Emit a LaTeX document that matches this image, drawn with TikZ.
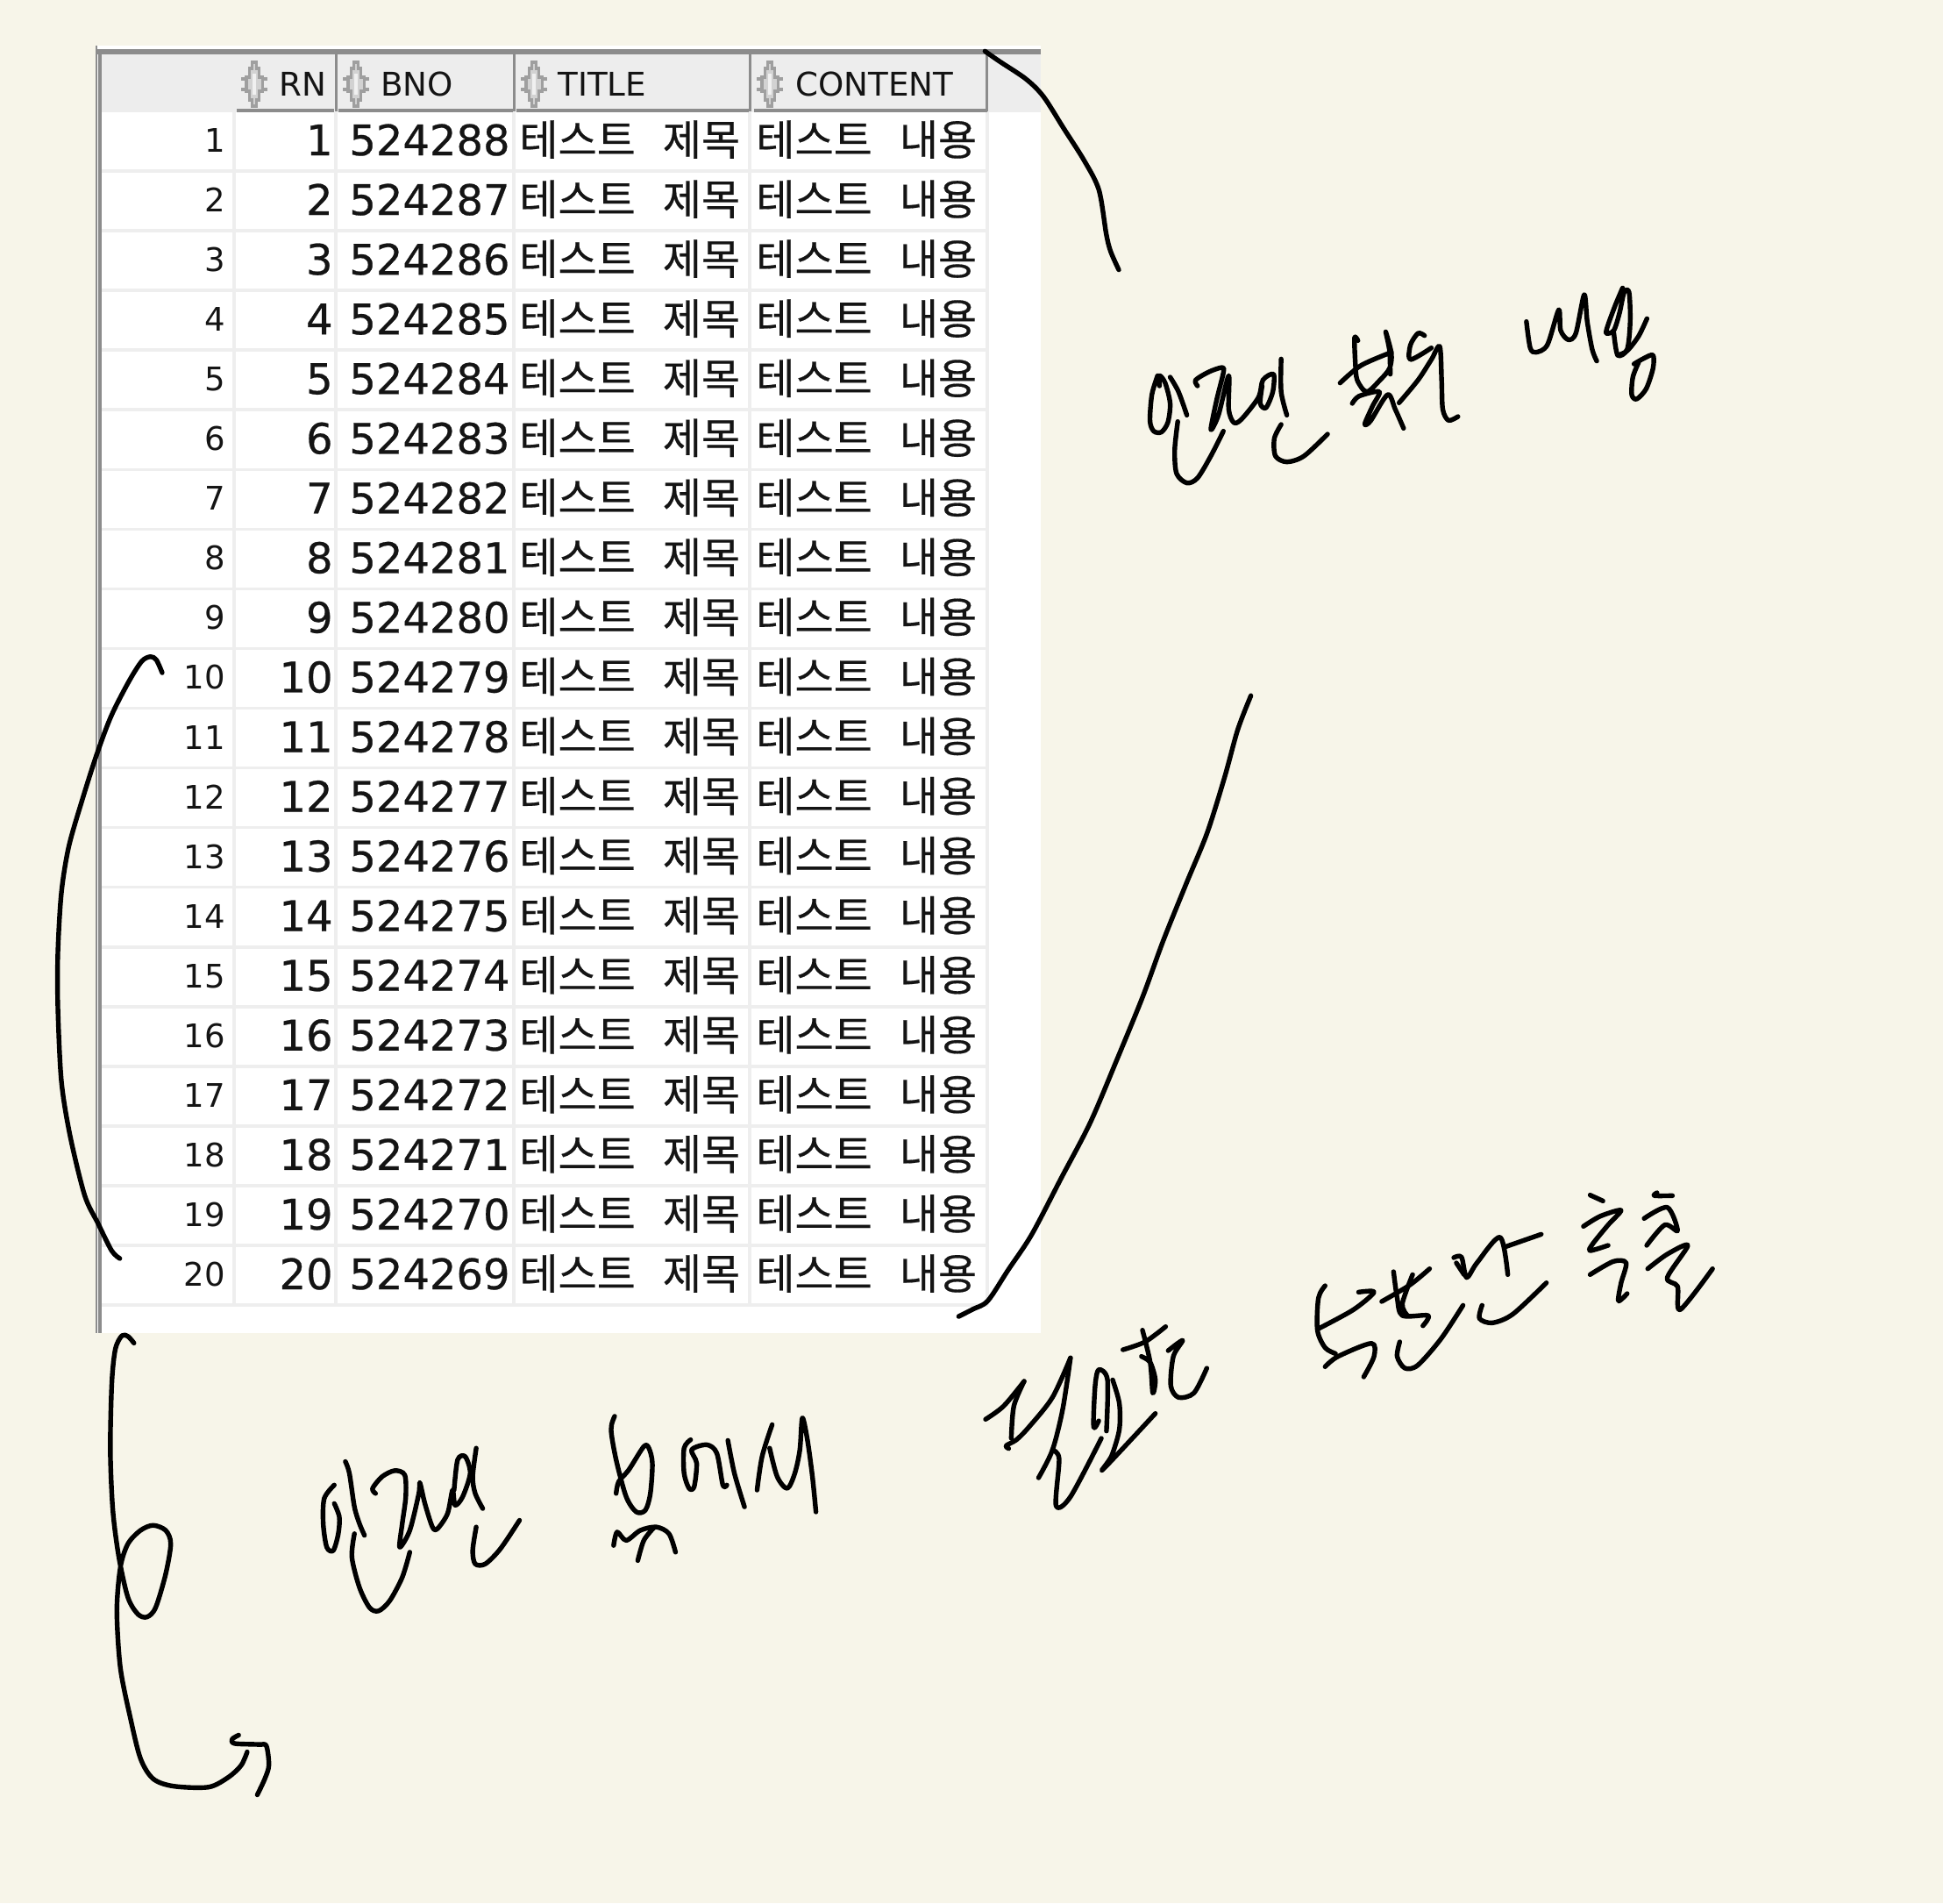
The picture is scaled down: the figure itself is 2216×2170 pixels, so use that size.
\documentclass[tikz,border=0pt]{standalone}
\usepackage{fontspec}
\setmainfont{DejaVu Sans}
\newfontfamily\numfont[FakeBold=0.5]{DejaVu Sans}
\newfontfamily\krfont[FakeBold=0.4]{Noto Sans CJK KR}
\definecolor{paper}{HTML}{F7F5E9}
\definecolor{sepc}{HTML}{EEEEEE}
\definecolor{headbg}{HTML}{EDEDED}
\definecolor{headline}{HTML}{8C8C8C}
\definecolor{inkc}{HTML}{141414}
\tikzset{
  hand/.style={line width=2.7pt,line cap=round,line join=round,black},
  hdrtxt/.style={inner sep=0pt,anchor=base west,text=inkc,font=\fontsize{18.6}{22}\selectfont},
  rowtxt/.style={inner sep=0pt,anchor=base east,text=inkc,font=\fontsize{18.5}{22}\selectfont},
  numtxt/.style={inner sep=0pt,anchor=base east,text=inkc,font=\numfont\fontsize{24}{30}\selectfont},
  kortxt/.style={inner sep=0pt,anchor=base west,text=inkc,font=\krfont\fontsize{24}{30}\selectfont},
}
\newcommand\sorticon[1]{%
  \begin{scope}[shift={(#1,96)},xscale=1.15]
    \fill[gray!35,draw=gray!75,line width=1.7pt]
      (-2,-25)--(2,-25)--(2,-18)--(5,-18)--(5,-8)--(8,-8)--(8,8)--(5,8)--(5,18)--(2,18)--(2,25)--(-2,25)--(-2,18)--(-5,18)--(-5,8)--(-8,8)--(-8,-8)--(-5,-8)--(-5,-18)--(-2,-18)--cycle;
    \draw[gray!75,line width=1.7pt] (-13,-6)--(-8,-6) (-13,6)--(-8,6) (8,-6)--(13,-6) (8,6)--(13,6);
    \fill[gray!12] (-2,-12) rectangle (2,12);
  \end{scope}}
\newcommand\hw[1]{\draw[hand] plot[smooth,tension=0.5] coordinates {#1};}
\begin{document}
\begin{tikzpicture}[x=0.5pt,y=-0.5pt]
\useasboundingbox (0,0) rectangle (2216,2170);
\fill[paper] (0,0) rectangle (2216,2170);
% table sheet
\fill[white] (110,52) rectangle (1187,1520);
\fill[headbg] (116,62) rectangle (1187,128);
\draw[headline,line width=2.6pt] (110,59)--(1187,59);
\draw[headline,line width=1pt] (110,52)--(110,1520);
\draw[headline,line width=2pt] (114,59)--(114,1520);
% header cell rules
\foreach \a/\b in {270/381,386/585,589/854,860/1126} {\draw[headline,line width=2pt] (\a,126)--(\b,126);}
\foreach \x in {383,586,855,1125} {\draw[headline,line width=1.5pt] (\x,62)--(\x,127);}
% grid
\foreach \i in {1,...,20} {\draw[sepc,line width=1.8pt] (116,127+68.05*\i)--(1127,127+68.05*\i);}
\foreach \x in {267,383,586,855,1126} {\draw[sepc,line width=1.8pt] (\x,128)--(\x,1488);}
% header
\sorticon{290}\sorticon{406}\sorticon{609}\sorticon{878}
\node[hdrtxt] (hRN) at (318,109) {RN};
\node[hdrtxt] (hBNO) at (434,109) {BNO};
\node[hdrtxt] (hTITLE) at (636,109) {TITLE};
\node[hdrtxt] (hCONTENT) at (907,109) {CONTENT};
% rows
\foreach \i in {1,...,20} {
  \pgfmathsetmacro{\yb}{127+68.05*(\i-0.5)+16}
  \edef\bno{\the\numexpr 524289-\i\relax}
  \node[rowtxt] (row\i) at (257,\yb-3.5) {\i};
  \node[numtxt] (rn\i) at (380,\yb) {\i};
  \node[numtxt] (bno\i) at (582,\yb) {\bno};
  \node[kortxt] (title\i) at (592,\yb) {테스트\hspace{15.5pt}제목};
  \node[kortxt] (content\i) at (862,\yb) {테스트\hspace{15.5pt}내용};
}
% top-right stroke
\begin{scope}[shift={(820,40)},scale=1/3]
\hw{(910,55)(960,90)(1050,150)(1110,210)(1180,320)(1250,430)(1300,530)(1325,680)(1340,740)(1368,803)}
\end{scope}
% left bracket
\begin{scope}[shift={(40,720)},xscale=1/3,yscale=1/1.912]
\hw{(435,90)(415,62)(395,55)(365,65)(320,110)(260,185)(210,270)(160,370)(115,470)(90,570)(78,700)(78,820)(90,980)(120,1100)(170,1230)(215,1290)(262,1350)(290,1367)}
\end{scope}
% long right stroke
\begin{scope}[shift={(1060,780)},xscale=1/3,yscale=1/2.119]
\hw{(1100,28)(1055,110)(1010,225)(950,360)(880,480)(800,620)(730,755)(640,910)(550,1060)(450,1195)(350,1330)(270,1415)(200,1490)(150,1510)(100,1528)}
\end{scope}
% first note
\begin{scope}[shift={(1240,300)},xscale=1/2.306,yscale=1/3]
\hw{(185,385)(170,450)(165,540)(175,575)(195,578)(212,545)(218,480)(205,410)(190,385)(190,420)}
\hw{(218,390)(240,440)(262,520)}
\hw{(238,542)(230,640)(235,720)(262,752)(290,735)(325,660)(358,575)}
\hw{(290,420)(285,400)(320,372)(355,357)(358,375)(340,470)(325,570)(345,520)(372,385)(372,500)(385,545)(405,535)(450,460)(462,400)(490,380)(488,440)(470,495)(455,480)(460,420)}
\hw{(510,328)(510,440)(525,520)}
\hw{(510,552)(492,600)(495,660)(525,680)(570,660)(632,585)}
\hw{(712,265)(703,255)(705,340)(710,400)(735,440)(770,400)(795,360)(800,310)(785,235)(795,300)(797,380)}
\hw{(665,410)(720,350)(800,305)}
\hw{(697,480)(715,455)(768,440)(750,490)(730,550)(745,540)(790,450)(810,500)(832,565)}
\hw{(887,248)(870,240)(850,280)(850,330)(905,290)}
\hw{(820,478)(870,400)(905,330)(927,285)(932,400)(935,500)(950,538)(975,525)}
\hw{(1155,200)(1165,290)(1180,305)(1210,280)(1240,160)(1245,230)(1265,262)(1285,240)(1307,108)(1315,200)(1328,295)(1340,335)}
\hw{(1408,85)(1390,140)(1370,210)(1365,240)(1385,230)(1400,170)(1412,100)(1425,100)(1428,200)(1420,295)(1395,315)(1385,240)}
\hw{(1395,315)(1420,300)(1450,250)(1472,190)}
\hw{(1438,345)(1465,325)(1488,315)(1488,360)(1470,430)(1445,465)(1432,450)(1435,390)(1450,340)}
\end{scope}
% lower-left bracket and note
\begin{scope}[shift={(100,1500)},xscale=1/1.742,yscale=1/2.613]
\hw{(92,82)(80,62)(68,60)(55,100)(48,200)(45,400)(50,580)(62,720)(80,840)(100,890)(118,898)(135,870)(155,770)(165,680)(155,640)(130,625)(105,640)(80,680)(65,750)(58,880)(65,1050)(85,1200)(105,1320)(130,1380)(170,1402)(240,1405)(280,1375)(305,1340)(317,1300)}
\hw{(300,1250)(287,1262)(292,1275)(340,1278)(355,1282)(360,1340)(352,1380)(337,1428)}
\hw{(490,505)(470,545)(468,620)(475,690)(488,700)(498,650)(500,600)(490,560)}
\hw{(512,435)(520,470)(530,570)(540,620)(550,655)}
\hw{(572,530)(566,515)(585,480)(610,462)(630,475)(632,540)(625,620)(620,690)(640,640)(658,530)(660,498)(670,560)(685,630)(695,635)(715,590)(725,520)(730,565)(745,540)(760,470)(750,420)(735,430)(728,520)}
\hw{(772,395)(765,480)(770,530)(785,575)}
\hw{(530,650)(525,720)(540,810)(560,870)(578,880)(600,850)(625,780)(640,705)}
\hw{(772,630)(765,700)(770,740)(790,740)(820,695)(858,610)}
\hw{(1047,300)(1040,340)(1050,430)(1070,540)(1090,585)(1108,580)(1118,530)(1122,440)(1115,395)(1105,390)(1075,460)(1055,495)(1050,530)}
\hw{(1045,685)(1052,645)(1070,670)(1098,640)(1130,630)(1155,650)(1168,705)}
\hw{(1093,730)(1105,670)(1125,632)}
\hw{(1198,370)(1185,395)(1185,470)(1195,515)(1205,510)(1210,440)(1200,400)(1230,385)(1250,410)(1262,505)(1270,505)}
\hw{(1272,372)(1285,470)(1305,570)}
\hw{(1330,520)(1340,420)(1360,325)}
\hw{(1355,395)(1370,480)(1390,515)(1405,470)(1415,400)(1420,305)(1430,370)(1440,480)(1447,585)}
\end{scope}
% lower-right note
\begin{scope}[shift={(1080,1340)},xscale=1/1.704,yscale=1/3]
\hw{(75,835)(110,790)(150,705)}
\hw{(150,705)(130,790)(125,900)}
\hw{(120,935)(115,925)(135,905)(160,860)(205,760)(240,625)}
\hw{(240,625)(225,800)(205,940)(178,1035)}
\hw{(205,940)(218,970)(212,1130)(240,1100)(300,900)}
\hw{(310,875)(312,700)(295,665)(288,720)(285,860)(295,840)}
\hw{(322,700)(335,780)(335,870)(320,960)(304,1005)(405,815)}
\hw{(380,530)(395,640)(400,745)(405,700)(395,640)(378,620)}
\hw{(342,597)(385,570)(425,518)}
\hw{(430,600)(458,565)(440,620)(435,720)(450,760)(480,745)(505,660)}
\hw{(735,378)(722,420)(720,530)(735,590)(755,610)}
\hw{(722,525)(790,460)(830,400)(800,400)}
\hw{(735,655)(760,620)(825,575)(830,620)(810,690)}
\hw{(868,330)(875,420)(885,480)(935,480)(925,515)}
\hw{(845,432)(900,375)(938,320)}
\hw{(905,340)(885,440)(895,480)}
\hw{(880,570)(875,620)(890,660)(915,650)(960,560)(1003,445)}
\hw{(985,282)(1000,280)(1010,350)(1030,300)(1075,212)(1090,340)}
\hw{(1085,245)(1155,202)}
\hw{(990,300)(1005,340)}
\hw{(1040,445)(1035,490)(1060,505)(1100,475)(1165,368)}
\hw{(1250,68)(1275,88)}
\hw{(1237,175)(1270,140)(1310,120)(1285,170)(1255,235)(1250,258)(1285,240)}
\hw{(1250,340)(1295,295)(1320,300)(1310,370)(1305,430)(1322,405)}
\hw{(1380,60)(1375,70)(1410,70)}
\hw{(1355,148)(1400,110)(1420,190)(1395,170)(1360,240)}
\hw{(1362,320)(1400,270)(1440,240)(1400,350)(1420,380)(1425,460)(1488,320)}
\end{scope}
\end{tikzpicture}
\end{document}
